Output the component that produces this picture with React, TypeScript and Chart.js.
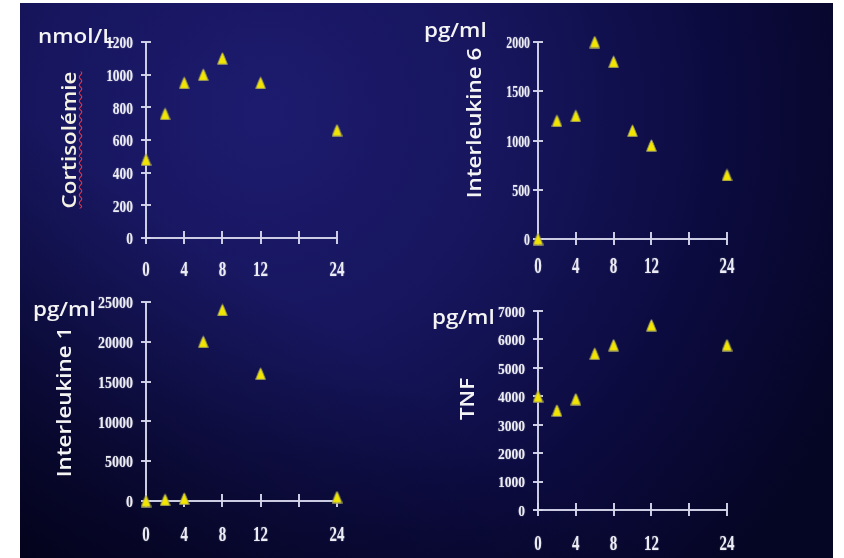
import React, { useEffect, useRef } from 'react';
import { Chart, registerables } from 'chart.js';

Chart.register(...registerables);

// ---- data ----
const HOURS = ['0', '2', '4', '6', '8', '10', '12', '14', '16', '20', '24'];
const X_TICK_MARKS = ['0', '4', '8', '12', '16', '24'];
const X_TICK_LABELS = ['0', '4', '8', '12', '24'];

const CORTISOL_HOURS = ['0', '2', '4', '6', '8', '12', '24'];
const CORTISOL = [480, 760, 950, 1000, 1100, 950, 660];
const CORTISOL_TICKS = [0, 200, 400, 600, 800, 1000, 1200];

const IL6_HOURS = ['0', '2', '4', '6', '8', '10', '12', '24'];
const IL6 = [0, 1200, 1250, 2000, 1800, 1100, 950, 650];
const IL6_TICKS = [0, 500, 1000, 1500, 2000];

const IL1_HOURS = ['0', '2', '4', '6', '8', '12', '24'];
const IL1 = [0, 150, 300, 20000, 24000, 16000, 500];
const IL1_TICKS = [0, 5000, 10000, 15000, 20000, 25000];

const TNF_HOURS = ['0', '2', '4', '6', '8', '12', '24'];
const TNF = [4000, 3500, 3900, 5500, 5800, 6500, 5800];
const TNF_TICKS = [0, 1000, 2000, 3000, 4000, 5000, 6000, 7000];

// ---- layout ----
const PAD = { left: 60, top: 15, right: 15, bottom: 45 };
const AXIS_COLOR = 'rgba(214,214,236,0.95)';
const LABEL_COLOR = '#ececf4';
const SERIF = '"Liberation Serif", "Times New Roman", serif';

const PANELS = [
  { key: 'cortisol', hours: CORTISOL_HOURS, values: CORTISOL, yTicks: CORTISOL_TICKS,
    area: { l: 146, t: 42, r: 337, b: 238 },
    yFont: { size: 17, sx: 0.79, gap: 13 }, xFont: { size: 22, sx: 0.68, dy: 32 } },
  { key: 'il6', hours: IL6_HOURS, values: IL6, yTicks: IL6_TICKS,
    area: { l: 538, t: 42, r: 727, b: 239 },
    yFont: { size: 16, sx: 0.74, gap: 8 }, xFont: { size: 23, sx: 0.65, dy: 28 } },
  { key: 'il1', hours: IL1_HOURS, values: IL1, yTicks: IL1_TICKS,
    area: { l: 146, t: 302, r: 337, b: 501 },
    yFont: { size: 16, sx: 0.875, gap: 13 }, xFont: { size: 22, sx: 0.68, dy: 34 } },
  { key: 'tnf', hours: TNF_HOURS, values: TNF, yTicks: TNF_TICKS,
    area: { l: 538, t: 311, r: 727, b: 510 },
    yFont: { size: 15, sx: 0.9, gap: 13 }, xFont: { size: 22, sx: 0.68, dy: 34 } },
];

const UNITS = [
  { text: 'nmol/L', left: 38, top: 26 },
  { text: 'pg/ml', left: 424, top: 20 },
  { text: 'pg/ml', left: 33, top: 299 },
  { text: 'pg/ml', left: 432, top: 307 },
];

const SIDE_LABELS = [
  { text: 'Cortisolémie', cx: 69, cy: 140, wavy: true },
  { text: 'Interleukine 6', cx: 474, cy: 123, wavy: false },
  { text: 'Interleukine 1', cx: 64, cy: 402, wavy: false },
  { text: 'TNF', cx: 467, cy: 399, wavy: false },
];

const slideAxes = {
  id: 'slideAxes',
  beforeDatasetsDraw(chart: any, _args: any, opts: any) {
    const { ctx, chartArea: a, scales } = chart;
    const x = scales.x;
    const y = scales.y;
    ctx.save();
    ctx.strokeStyle = AXIS_COLOR;
    ctx.lineWidth = 2;
    ctx.lineCap = 'butt';
    ctx.beginPath();
    ctx.moveTo(a.left, a.top);
    ctx.lineTo(a.left, a.bottom);
    ctx.lineTo(a.right, a.bottom);
    ctx.stroke();
    ctx.beginPath();
    for (const v of opts.yTicks) {
      const py = Math.round(y.getPixelForValue(v));
      ctx.moveTo(a.left - 5, py);
      ctx.lineTo(a.left + 5, py);
    }
    for (const h of X_TICK_MARKS) {
      const px = Math.round(x.getPixelForValue(HOURS.indexOf(h)));
      ctx.moveTo(px, a.bottom - 7);
      ctx.lineTo(px, a.bottom + 6);
    }
    ctx.stroke();

    ctx.fillStyle = LABEL_COLOR;
    ctx.shadowColor = 'rgba(230,230,245,0.5)';
    ctx.shadowBlur = 1.5;
    const yf = opts.yFont;
    ctx.font = `bold ${yf.size}px ${SERIF}`;
    ctx.textAlign = 'right';
    ctx.textBaseline = 'middle';
    for (const v of opts.yTicks) {
      const py = y.getPixelForValue(v);
      ctx.save();
      ctx.translate(a.left - yf.gap, py + 2);
      ctx.scale(yf.sx, 1);
      ctx.fillText(String(v), 0, 0);
      ctx.restore();
    }
    const xf = opts.xFont;
    ctx.font = `bold ${xf.size}px ${SERIF}`;
    ctx.textAlign = 'center';
    for (const h of X_TICK_LABELS) {
      const px = x.getPixelForValue(HOURS.indexOf(h));
      ctx.save();
      ctx.translate(px, a.bottom + xf.dy);
      ctx.scale(xf.sx, 1);
      ctx.fillText(h, 0, 0);
      ctx.restore();
    }
    ctx.restore();
  },
};

function makeTriangle(): HTMLCanvasElement {
  const c = document.createElement('canvas');
  c.width = 11;
  c.height = 13;
  const g = c.getContext('2d')!;
  g.beginPath();
  g.moveTo(5.5, 0.8);
  g.quadraticCurveTo(6.3, 1.5, 10.4, 12.3);
  g.lineTo(0.6, 12.3);
  g.quadraticCurveTo(4.7, 1.5, 5.5, 0.8);
  g.closePath();
  g.fillStyle = '#f2e600';
  g.fill();
  g.strokeStyle = 'rgba(150,150,110,0.9)';
  g.lineWidth = 1;
  g.stroke();
  return c;
}

function Panel({ p }: { p: typeof PANELS[number] }) {
  const ref = useRef<HTMLCanvasElement | null>(null);
  const w = p.area.r - p.area.l + PAD.left + PAD.right;
  const h = p.area.b - p.area.t + PAD.top + PAD.bottom;
  useEffect(() => {
    if (!ref.current) return;
    const tri = makeTriangle();
    const chart = new Chart(ref.current, {
      type: 'scatter',
      data: {
        labels: HOURS,
        datasets: [
          {
            data: p.hours.map((hr, i) => ({ x: hr, y: p.values[i] })) as any,
            pointStyle: tri as any,
            pointRadius: 6,
            clip: false as any,
          },
        ],
      },
      options: {
        animation: false,
        responsive: false,
        events: [],
        layout: { padding: PAD },
        plugins: {
          legend: { display: false },
          tooltip: { enabled: false },
          slideAxes: { yTicks: p.yTicks, yFont: p.yFont, xFont: p.xFont },
        } as any,
        scales: {
          x: { type: 'category', labels: HOURS, display: false, offset: false },
          y: { type: 'linear', min: 0, max: p.yTicks[p.yTicks.length - 1], display: false },
        },
      },
      plugins: [slideAxes],
    });
    return () => chart.destroy();
  }, []);
  return (
    <canvas
      ref={ref}
      width={w}
      height={h}
      style={{ position: 'absolute', left: p.area.l - PAD.left, top: p.area.t - PAD.top, width: w, height: h }}
    />
  );
}

export default function App() {
  const textFont = '"Open Sans", "Noto Sans", sans-serif';
  return (
    <div style={{ position: 'absolute', left: 0, top: 0, width: 844, height: 558, background: '#ffffff', overflow: 'hidden' }}>
      <div
        style={{
          position: 'absolute', left: 20, top: 3, width: 813, height: 555,
          background:
            'linear-gradient(to top right, rgba(0,0,14,0.65) 0%, rgba(0,0,14,0) 40%), radial-gradient(circle at 30% 20%, #1d1b6e 0px, #16155c 250px, #0c0b40 450px, #050524 650px)',
        }}
      />
      {PANELS.map((p) => (
        <Panel key={p.key} p={p} />
      ))}
      {UNITS.map((u, i) => (
        <div
          key={'u' + i}
          style={{
            position: 'absolute', left: u.left, top: u.top, fontFamily: textFont, fontSize: 20,
            fontWeight: 600, lineHeight: '20px', color: '#f4f4f4', whiteSpace: 'nowrap',
            transform: 'scaleX(1.12)', transformOrigin: 'left center',
          }}
        >
          {u.text}
        </div>
      ))}
      {SIDE_LABELS.map((s, i) => (
        <div
          key={'s' + i}
          style={{
            position: 'absolute', left: s.cx, top: s.cy, fontFamily: textFont, fontSize: 20,
            fontWeight: 600, lineHeight: '20px', color: s.wavy ? '#f4f2e2' : '#f4f4f4', whiteSpace: 'nowrap',
            transform: 'translate(-50%, -50%) rotate(-90deg) scaleX(1.12)',
            textDecoration: s.wavy ? 'underline wavy #e8384a' : 'none',
            textDecorationThickness: s.wavy ? '1px' : undefined,
            textUnderlineOffset: s.wavy ? '2px' : undefined,
          }}
        >
          {s.text}
        </div>
      ))}
    </div>
  );
}
